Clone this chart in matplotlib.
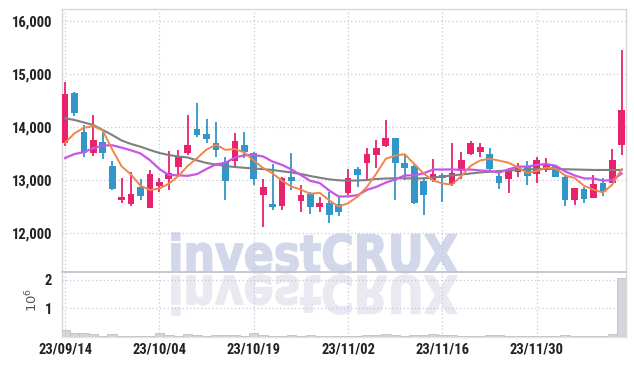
import matplotlib
matplotlib.use("Agg")
import matplotlib.pyplot as plt
from matplotlib.textpath import TextPath
from matplotlib.font_manager import FontProperties
from matplotlib.patches import PathPatch
from matplotlib.transforms import Affine2D, IdentityTransform

# trading days shown (index positions), labels every 10 days
tick_idx = [0, 10, 20, 30, 40, 50]
tick_labels = ["23/09/14", "23/10/04", "23/10/19", "23/11/02", "23/11/16", "23/11/30"]

opens = [13700, 14640, 13910, 13515, 13720, 13270, 12630, 12545, 12870, 12480,
         12890, 13015, 13250, 13515, 13955, 13870, 13705, 13345, 13365, 13660,
         13500, 12725, 12545, 12500, 13050, 12610, 12735, 12485, 12560, 12545,
         12760, 13210, 13315, 13470, 13650, 13790, 13325, 13265, 12980, 13000,
         13100, 12925, 13170, 13490, 13535, 13490, 13075, 13025, 13157, 13240,
         13105, 13220, 13265, 13060, 12625, 12830, 12665, 12950, 12950, 13660]
highs = [14850, 14660, 14040, 14230, 13910, 13360, 13045, 13155, 13020, 13190,
         13045, 13555, 13565, 14225, 14460, 14145, 14090, 13440, 13895, 13900,
         13530, 13015, 13300, 13050, 13505, 12905, 12780, 12685, 12780, 12700,
         13200, 13250, 13600, 13755, 14130, 13800, 13490, 13285, 13060, 13390,
         13125, 13690, 13535, 13740, 13690, 13600, 13190, 13220, 13315, 13365,
         13440, 13410, 13270, 13095, 12850, 12875, 13095, 13030, 13580, 15450]
lows = [13650, 14200, 13440, 13450, 13390, 12820, 12565, 12515, 12620, 12470,
        12780, 12810, 13060, 13470, 13815, 13690, 13440, 12620, 13265, 13415,
        12905, 12110, 12430, 12440, 12810, 12400, 12360, 12400, 12195, 12320,
        12715, 12875, 12985, 13220, 13615, 12620, 13000, 12540, 12340, 12970,
        12590, 12885, 13015, 13470, 13440, 13175, 12825, 12750, 13060, 12905,
        12940, 13155, 13050, 12510, 12530, 12560, 12655, 12700, 12940, 13470]
closes = [14620, 14270, 13515, 13755, 13515, 12825, 12680, 12735, 12705, 13110,
          12970, 13125, 13455, 13660, 13855, 13780, 13565, 12985, 13735, 13535,
          13010, 12860, 12485, 13035, 12990, 12715, 12485, 12560, 12335, 12400,
          13030, 13095, 13490, 13605, 13790, 13315, 13235, 12570, 12715, 13115,
          13040, 13125, 13375, 13690, 13615, 13200, 12950, 13170, 13265, 13080,
          13375, 13285, 13060, 12625, 12845, 12640, 12925, 12780, 13375, 14320]

ma5 = [13700, 13880, 13985, 14015, 13935, 13576, 13258, 13102, 12892, 12811,
       12840, 12929, 13073, 13264, 13413, 13575, 13663, 13569, 13584, 13520,
       13366, 13225, 13125, 12985, 12876, 12817, 12742, 12757, 12617, 12499,
       12562, 12684, 12870, 13124, 13402, 13459, 13487, 13303, 13125, 12990,
       12935, 12913, 13074, 13269, 13369, 13401, 13366, 13325, 13240, 13133,
       13168, 13235, 13213, 13085, 13038, 12891, 12819, 12763, 12913, 13208]
ma10 = [13415, 13490, 13525, 13600, 13650, 13655, 13610, 13560, 13500, 13373,
        13208, 13094, 13088, 13078, 13112, 13208, 13296, 13321, 13424, 13467,
        13471, 13444, 13347, 13285, 13198, 13092, 12984, 12941, 12801, 12688,
        12690, 12713, 12814, 12871, 12951, 13011, 13086, 13087, 13125, 13196,
        13197, 13200, 13189, 13197, 13180, 13168, 13140, 13200, 13255, 13251,
        13285, 13301, 13269, 13163, 13086, 13030, 13027, 12988, 12999, 13123]
ma20 = [14164, 14132, 14085, 14038, 13943, 13849, 13745, 13679, 13628, 13566,
        13509, 13472, 13443, 13425, 13368, 13321, 13292, 13264, 13245, 13230,
        13217, 13204, 13189, 13164, 13142, 13113, 13075, 13042, 13013, 12994,
        12987, 12991, 13000, 13019, 13028, 13032, 13032, 13028, 13030, 13045,
        13066, 13085, 13104, 13123, 13142, 13155, 13170, 13179, 13189, 13198,
        13208, 13208, 13208, 13202, 13198, 13194, 13189, 13189, 13189, 13189]

volumes = [260000, 150000, 150000, 100000, 40000, 100000, 30000, 30000, 30000, 30000,
           150000, 80000, 30000, 100000, 70000, 50000, 70000, 70000, 60000, 40000,
           140000, 60000, 40000, 40000, 70000, 50000, 70000, 40000, 30000, 40000,
           30000, 30000, 60000, 70000, 100000, 80000, 50000, 70000, 70000, 90000,
           80000, 80000, 40000, 50000, 40000, 80000, 70000, 50000, 30000, 30000,
           40000, 30000, 30000, 80000, 50000, 40000, 30000, 30000, 120000, 2050000]

UP = "#e8226d"
DOWN = "#3396c9"
GRID = "#c6c8da"
SPINE = "#d6d6dc"
TICKFONT = ["Roboto Condensed", "Roboto", "DejaVu Sans"]

fig = plt.figure(figsize=(6.34, 3.66), dpi=100)
ax = fig.add_axes([62 / 634, 1 - 272 / 366, 564 / 634, 263 / 366])
axv = fig.add_axes([62 / 634, 1 - 337 / 366, 564 / 634, 65 / 366], sharex=ax)
for a in (ax, axv):
    a.set_facecolor("none")

x = list(range(len(closes)))
body_col = [UP if c >= o else DOWN for o, c in zip(opens, closes)]
bottoms = [min(o, c) for o, c in zip(opens, closes)]
heights = [max(abs(c - o), 12) for o, c in zip(opens, closes)]

ax.vlines(x, lows, highs, colors=body_col, linewidth=1.3, zorder=3)
ax.bar(x, heights, bottom=bottoms, width=0.71, color=body_col, linewidth=0, zorder=4)

ax.plot(x, ma20, color="#7f7f7f", linewidth=1.5, zorder=5)
ax.plot(x, ma10, color="#c955e8", linewidth=1.6, zorder=5)
ax.plot(x, ma5, color="#f0874a", linewidth=1.4, zorder=5)

ax.set_ylim(11264, 16226)
ax.set_yticks([12000, 13000, 14000, 15000, 16000])
ax.set_yticklabels([f"{v:,}" for v in [12000, 13000, 14000, 15000, 16000]])
ax.set_xlim(-0.32, 59.45)

axv.bar(x, volumes, width=1.0, color="#d4d4da", edgecolor="#c0c0c8", linewidth=0.6, zorder=3)
axv.set_ylim(0, 2.27e6)
axv.set_yticks([1e6, 2e6])
axv.set_yticklabels(["1", "2"])
axv.set_xticks(tick_idx)
axv.set_xticklabels(tick_labels)

for a in (ax, axv):
    a.grid(True, color=GRID, linestyle=(0, (1, 2)), linewidth=0.9, zorder=1)
    a.set_axisbelow(True)
    a.tick_params(length=0, pad=7, labelsize=10.5, labelcolor="#222222")
    for lab in a.get_yticklabels() + a.get_xticklabels():
        lab.set_family(TICKFONT)
        lab.set_fontweight("bold")
    for s in a.spines.values():
        s.set_color(SPINE)
        s.set_linewidth(1.0)
ax.tick_params(axis="x", labelbottom=False)
axv.tick_params(axis="x", pad=4)
ax.spines["bottom"].set_color("#c4c4cc")
ax.spines["bottom"].set_linewidth(1.3)
axv.spines["top"].set_visible(False)
axv.spines["bottom"].set_color("#e4e4e8")

fig.text(32 / 634, 1 - 300 / 366, r"$10^6$", rotation=90, ha="center", va="center",
         fontsize=9.5, color="#555555")

# watermark with reflection
fp = FontProperties(family="DejaVu Sans", weight="bold")
tp = TextPath((0, 0), "investCRUX", size=1, prop=fp)
bb = tp.get_extents()
sx = (457 - 172) / bb.width
sy = (366 - 233 - 94) / bb.ymax
top = Affine2D().translate(-bb.xmin, 0).scale(sx, sy).translate(172, 366 - 272)
refl = Affine2D().translate(-bb.xmin, 0).scale(sx, -sy).translate(172, 366 - 276)
for tr, col in ((top, "#d2d7ea"), (refl, "#eae8f1")):
    p = PathPatch(tr.transform_path(tp), facecolor=col, edgecolor=col, linewidth=1.2,
                  transform=IdentityTransform(), zorder=-1)
    fig.add_artist(p)

fig.savefig("out.png", dpi=100, facecolor="white")
